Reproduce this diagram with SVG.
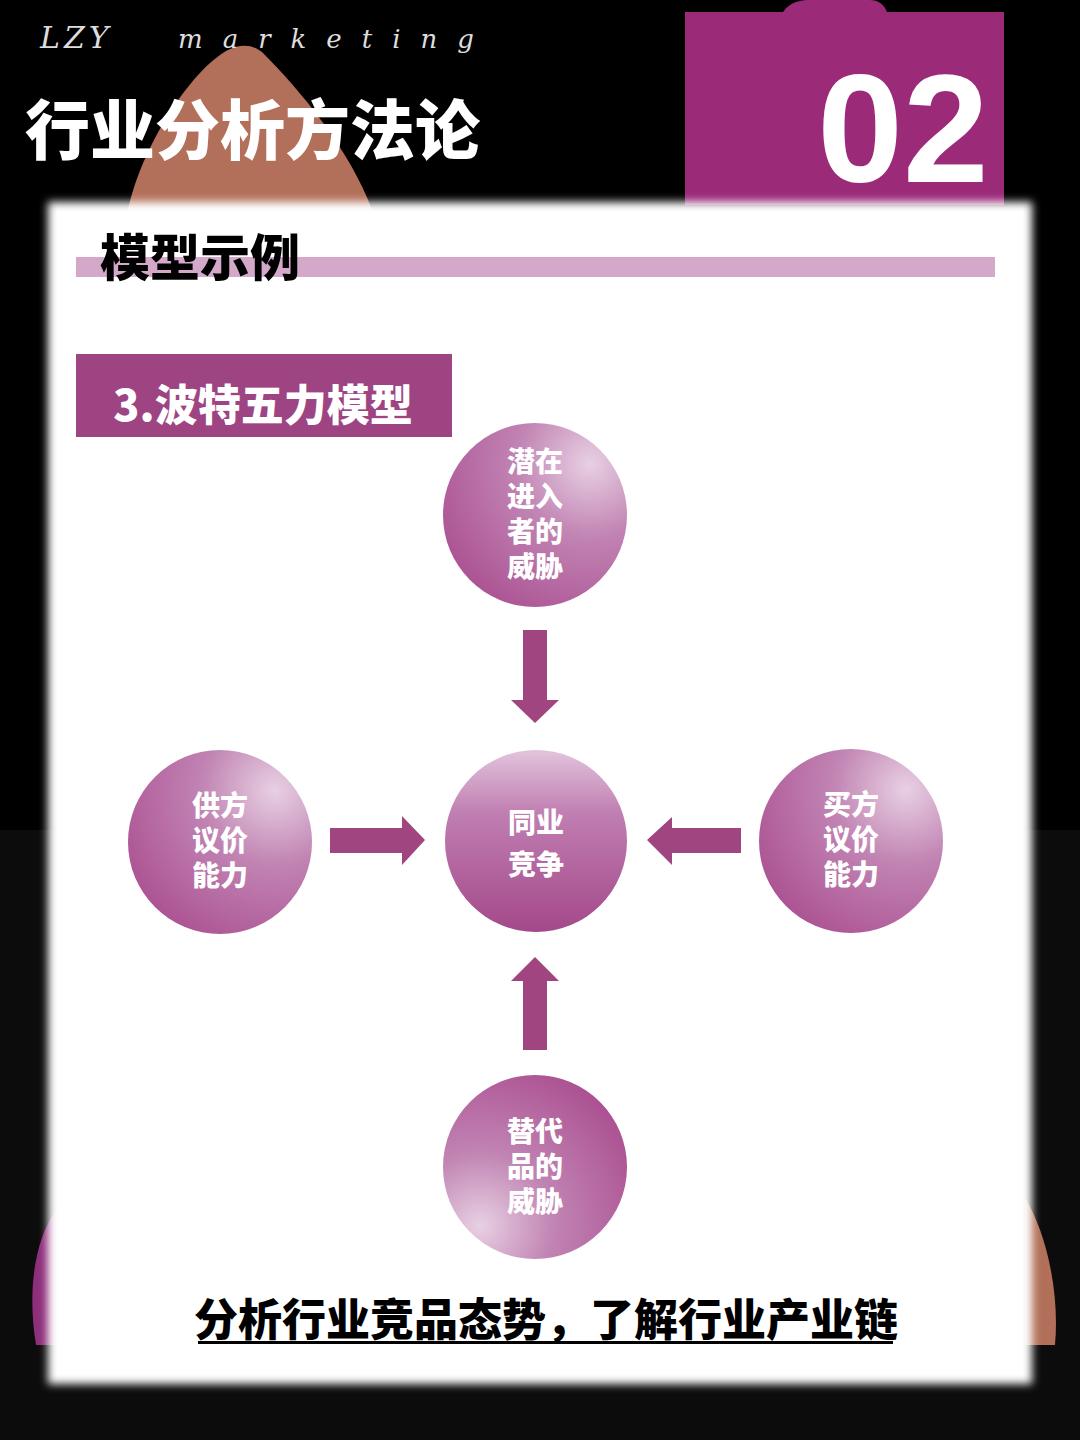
<svg xmlns="http://www.w3.org/2000/svg" width="1080" height="1440" viewBox="0 0 1080 1440">
  <style>
    .cjk { font-family: "Noto Sans CJK SC", "Noto Sans", sans-serif; font-weight: 900; }
    .node-text { fill: #ffffff; font-size: 28px; text-anchor: middle; }
    .arrow { fill: #a0457f; }
  </style>
  <defs>
    <filter id="soft" x="-5%" y="-5%" width="110%" height="110%">
      <feGaussianBlur stdDeviation="4"/>
    </filter>
    <radialGradient id="gUR" cx="0.8" cy="0.22" r="1" fx="0.8" fy="0.22">
      <stop offset="0" stop-color="#e8d0e3"/>
      <stop offset="0.4" stop-color="#c184b3"/>
      <stop offset="1" stop-color="#a94b8e"/>
    </radialGradient>
    <radialGradient id="gLL" cx="0.2" cy="0.82" r="1" fx="0.2" fy="0.82">
      <stop offset="0" stop-color="#e8d0e3"/>
      <stop offset="0.4" stop-color="#c184b3"/>
      <stop offset="1" stop-color="#a94b8e"/>
    </radialGradient>
    <linearGradient id="gV" x1="0" y1="0" x2="0" y2="1">
      <stop offset="0" stop-color="#e2c4dc"/>
      <stop offset="0.35" stop-color="#c07eb1"/>
      <stop offset="1" stop-color="#a4488a"/>
    </linearGradient>
  </defs>

  <!-- background -->
  <rect x="0" y="0" width="1080" height="1440" fill="#000000"/>
  <rect x="0" y="830" width="1080" height="610" fill="#0c0c0c"/>
  <!-- sponge shape behind title -->
  <path d="M128,210 C140,150 190,70 228,50 C240,44 252,44 262,52 C300,90 350,150 372,210 Z" fill="#b2705a"/>
  <!-- bottom corner shapes -->
  <path d="M55,1212 C35,1240 27,1290 36,1345 L60,1345 L60,1212 Z" fill="#8e2f7c"/>
  <path d="M1025,1198 C1045,1230 1060,1290 1055,1345 L1025,1345 Z" fill="#b2705a"/>
  <!-- magenta tab -->
  <path d="M685,12 L783,12 C790,2 800,0 810,0 L870,0 C878,0 884,4 887,12 L1004,12 L1004,205 L685,205 Z" fill="#9b2a79"/>

  <!-- header texts -->
  <text x="40" y="48" font-family="DejaVu Serif, serif" font-style="italic" font-size="30" fill="#dddddd" letter-spacing="4">LZY</text>
  <text x="178" y="48" font-family="DejaVu Serif, serif" font-style="italic" font-size="26" fill="#dddddd" letter-spacing="20">marketing</text>
  <text x="25" y="154" class="cjk" font-size="65" fill="#ffffff">行业分析方法论</text>
  <text x="903" y="182" font-family="Liberation Sans, Arial, sans-serif" font-weight="700" font-size="154" fill="#ffffff" text-anchor="middle">02</text>

  <!-- white card -->
  <rect x="48" y="202" width="984" height="1182" fill="#ffffff" filter="url(#soft)"/>

  <!-- section heading -->
  <rect x="76" y="257" width="919" height="20" fill="#d4a8c9"/>
  <text x="100" y="276" class="cjk" font-size="50" fill="#000000">模型示例</text>

  <!-- model label -->
  <rect x="76" y="354" width="376" height="83" fill="#9e4483"/>
  <text x="263" y="421" class="cjk" font-size="43" fill="#ffffff" text-anchor="middle" font-weight="700">3.波特五力模型</text>

  <!-- connectors -->
  <g id="connectors">
    <polygon class="arrow" points="523,630 547,630 547,700 559,700 535,723 511,700 523,700"/>
    <polygon class="arrow" points="523,1050 547,1050 547,981 559,981 535,957 511,981 523,981"/>
    <polygon class="arrow" points="330,828 402,828 402,816 425,840 402,865 402,853 330,853"/>
    <polygon class="arrow" points="741,828 672,828 672,817 647,840 672,865 672,853 741,853"/>
  </g>

  <!-- nodes -->
  <g id="node-entrants">
    <circle cx="535" cy="515" r="92" fill="url(#gUR)"/>
    <text class="cjk node-text" x="535" y="472">潜在<tspan x="535" dy="35">进入</tspan><tspan x="535" dy="35">者的</tspan><tspan x="535" dy="35">威胁</tspan></text>
  </g>
  <g id="node-rivalry">
    <circle cx="536" cy="841" r="91" fill="url(#gV)"/>
    <text class="cjk node-text" x="536" y="833" font-size="36">同业<tspan x="536" dy="42">竞争</tspan></text>
  </g>
  <g id="node-suppliers">
    <circle cx="220" cy="842" r="92" fill="url(#gUR)"/>
    <text class="cjk node-text" x="220" y="816">供方<tspan x="220" dy="35">议价</tspan><tspan x="220" dy="35">能力</tspan></text>
  </g>
  <g id="node-buyers">
    <circle cx="851" cy="841" r="92" fill="url(#gUR)"/>
    <text class="cjk node-text" x="851" y="815">买方<tspan x="851" dy="35">议价</tspan><tspan x="851" dy="35">能力</tspan></text>
  </g>
  <g id="node-substitutes">
    <circle cx="535" cy="1167" r="92" fill="url(#gLL)"/>
    <text class="cjk node-text" x="535" y="1142">替代<tspan x="535" dy="35">品的</tspan><tspan x="535" dy="35">威胁</tspan></text>
  </g>

  <!-- conclusion -->
  <text x="546" y="1336" class="cjk" font-size="44" fill="#000000" text-anchor="middle">分析行业竞品态势，了解行业产业链</text>
  <rect x="198" y="1341" width="695" height="3" fill="#000000"/>
</svg>
